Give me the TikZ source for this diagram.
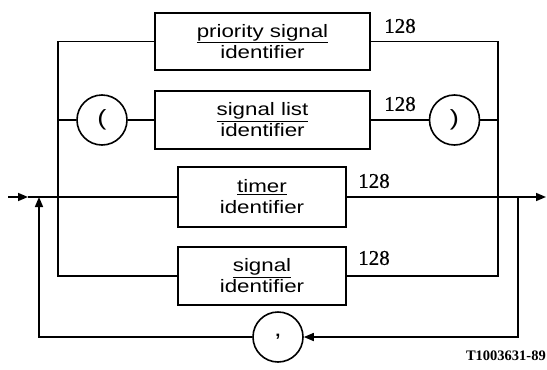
\documentclass[tikz,border=0pt]{standalone}
\usepackage{fontspec}
\setmainfont{Liberation Serif}
\newfontfamily\boxfont{Liberation Sans}[FakeStretch=1.24]
\newfontfamily\numfont{Liberation Serif}[FakeBold=0.6]
\usetikzlibrary{arrows.meta}
\tikzset{
  line/.style={line width=1.6pt},
  idbox/.style={draw, line width=1.6pt, inner sep=0pt, align=center,
    font=\boxfont\fontsize{18}{21}\selectfont},
  term/.style={draw, circle, line width=1.6pt, minimum size=50pt, inner sep=0pt,
    font=\boxfont\fontsize{22}{24}\selectfont},
  lbl/.style={font=\numfont\fontsize{21}{23}\selectfont, inner sep=0pt},
  tip/.style={-{Triangle[length=10pt,width=8pt]}}
}
\begin{document}
\begin{tikzpicture}[x=1pt,y=-1pt]
\useasboundingbox (0,0) rectangle (547,370);
\node[idbox, minimum width=215pt, minimum height=57pt] (P) at (262.5,41.5) {\underline{priority signal}\\identifier};
\node[idbox, minimum width=215pt, minimum height=58pt] (SL) at (262.5,120) {\underline{signal list}\\identifier};
\node[idbox, minimum width=168pt, minimum height=60pt] (T) at (262,197) {\underline{timer}\\identifier};
\node[idbox, minimum width=168pt, minimum height=58pt] (S) at (262,276) {\underline{signal}\\identifier};
\node[term] (lp) at (102,120) {(};
\node[term] (rp) at (454.5,120) {)};
\node[term] (cm) at (278,337) {,};

\coordinate (in) at (8,197);
\coordinate (ar) at (28,197);
\coordinate (lj) at (39,197);
\coordinate (bl) at (58,197);
\coordinate (br) at (498,197);
\coordinate (lo) at (518,197);
\coordinate (out) at (546,197);

\draw[line, tip] (in) -- (ar);
\draw[line] (ar) -- (T.west);
\draw[line, tip] (T.east) -- (out);
\draw[line] (P.west) -| (bl) |- (S.west);
\draw[line] (lp.west) -- (lp.west -| bl);
\draw[line] (lp.east) -- (SL.west);
\draw[line] (SL.east) -- (rp.west);
\draw[line] (rp.east) -- (rp.east -| br);
\draw[line] (P.east) -| (br) |- (S.east);
\draw[line, tip] (lo) |- (cm.east);
\draw[line, tip] (cm.west) -| (lj);

\node[lbl] (l1) at (400,26) {128};
\node[lbl] (l2) at (400,104) {128};
\node[lbl] (l3) at (374,181) {128};
\node[lbl] (l4) at (374,258) {128};
\node[font=\bfseries\fontsize{14.5}{16}\selectfont, anchor=east, inner sep=0pt] (id) at (546,356) {T1003631-89};
\end{tikzpicture}
\end{document}
